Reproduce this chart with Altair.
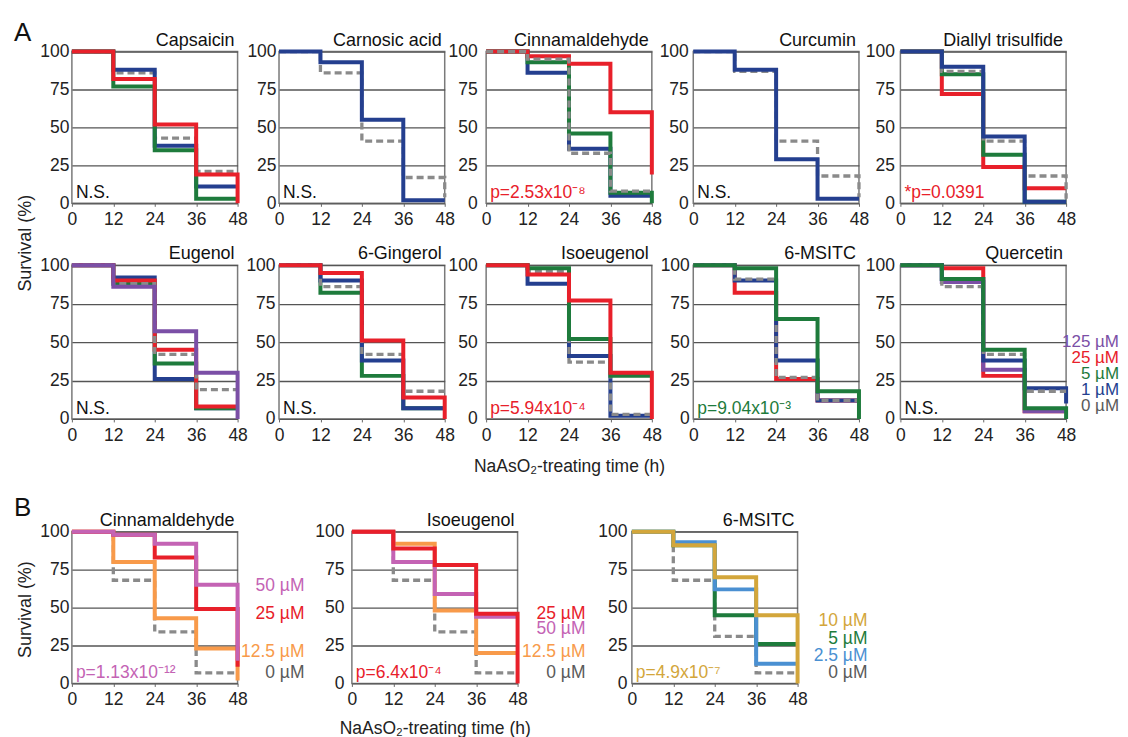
import altair as alt
import pandas as pd

FONT = "Liberation Sans"

TIMES = [0, 12, 24, 36, 48]
Y_TICKS = [0, 25, 50, 75, 100]

# ---- Section A (survival %, at 0/12/24/36/48 h); dict order = drawing order
CAPSAICIN = {"0 µM": [100, 86, 43, 21, 21], "1 µM": [100, 88, 38, 11, 11],
             "5 µM": [100, 77, 35, 3, 3], "25 µM": [100, 82, 52, 19, 0]}
CARNOSIC_ACID = {"0 µM": [100, 86, 41, 17, 4], "1 µM": [100, 93, 55, 2, 2]}
CINNAMALDEHYDE_A = {"1 µM": [100, 86, 36, 5, 5], "5 µM": [100, 93, 46, 7, 0],
                    "25 µM": [100, 97, 92, 60, 19], "0 µM": [100, 95, 33, 8, 8]}
CURCUMIN = {"0 µM": [100, 87, 41, 18, 4], "1 µM": [100, 88, 29, 3, 3]}
DIALLYL_TRISULFIDE = {"25 µM": [100, 72, 24, 10, 10], "5 µM": [100, 85, 32, 1, 1],
                      "0 µM": [100, 87, 41, 18, 3], "1 µM": [100, 90, 44, 1, 1]}
EUGENOL = {"1 µM": [100, 92, 26, 7, 7], "5 µM": [100, 88, 36, 7, 7],
           "25 µM": [100, 90, 45, 8, 8], "0 µM": [100, 88, 42, 19, 19],
           "125 µM": [100, 86, 57, 30, 0]}
GINGEROL = {"5 µM": [100, 82, 28, 7, 7], "1 µM": [100, 90, 38, 7, 7],
            "0 µM": [100, 86, 42, 18, 18], "25 µM": [100, 95, 51, 14, 0]}
ISOEUGENOL_A = {"1 µM": [100, 88, 41, 2, 2], "0 µM": [100, 96, 37, 3, 3],
                "5 µM": [100, 98, 52, 28, 28], "25 µM": [100, 94, 77, 30, 0]}
MSITC_A = {"25 µM": [100, 82, 26, 12, 12], "1 µM": [100, 90, 38, 12, 12],
           "0 µM": [100, 91, 27, 12, 12], "5 µM": [100, 98, 65, 18, 0]}
QUERCETIN = {"25 µM": [100, 98, 28, 5, 5], "125 µM": [100, 89, 32, 5, 5],
             "1 µM": [100, 91, 38, 20, 10], "0 µM": [100, 86, 42, 18, 18],
             "5 µM": [100, 91, 45, 7, 0]}

# ---- Section B
CINNAMALDEHYDE_B = {"0 µM": [100, 68, 34, 7, 7], "12.5 µM": [100, 80, 43, 23, 2],
                    "25 µM": [100, 98, 83, 49, 11], "50 µM": [100, 98, 92, 65, 15]}
ISOEUGENOL_B = {"0 µM": [100, 68, 34, 7, 7], "12.5 µM": [100, 92, 48, 20, 20],
                "50 µM": [100, 80, 59, 44, 44], "25 µM": [100, 89, 78, 46, 0]}
MSITC_B = {"0 µM": [100, 68, 31, 7, 7], "5 µM": [100, 91, 45, 26, 26],
           "2.5 µM": [100, 93, 62, 13, 13], "10 µM": [100, 91, 70, 45, 0]}

LEGEND_A = ["125 µM", "25 µM", "5 µM", "1 µM", "0 µM"]
LEGEND_B_CINN = ["50 µM", "25 µM", "12.5 µM", "0 µM"]
LEGEND_B_ISO = ["25 µM", "50 µM", "12.5 µM", "0 µM"]
LEGEND_B_MSITC = ["10 µM", "5 µM", "2.5 µM", "0 µM"]

COLORS = {"0 µM": "#8a8a8a", "1 µM": "#243f8f", "5 µM": "#1e7b3c",
          "25 µM": "#e8202a", "125 µM": "#7b4fa6", "12.5 µM": "#f89a4a",
          "50 µM": "#c463b4", "2.5 µM": "#4a90d2", "10 µM": "#d3a63b"}
TEXT_COLORS = dict(COLORS, **{"0 µM": "#5a5a5a"})

X_TITLE = "NaAsO₂-treating time (h)"
Y_TITLE = "Survival (%)"


def text_layer(label, x, y, color="#111", size=17, align="left",
               baseline="alphabetic", angle=0):
    kw = dict(align=align, baseline=baseline, font=FONT, fontSize=size, color=color)
    if angle:
        kw["angle"] = angle
    return alt.Chart(pd.DataFrame({"label": [label]})).mark_text(**kw).encode(
        x=alt.value(x), y=alt.value(y), text="label:N")


def panel(title, series, w, h, note, note_color="#111", xtitle_pad=0, ypad=3, extras=()):
    if xtitle_pad:
        x_axis = alt.Axis(values=TIMES, titlePadding=xtitle_pad)
        x_enc = alt.X("t:Q", scale=alt.Scale(domain=[0, 48], nice=False),
                      axis=x_axis, title=X_TITLE)
    else:
        x_enc = alt.X("t:Q", scale=alt.Scale(domain=[0, 48], nice=False),
                      axis=alt.Axis(values=TIMES), title=None)
    y_enc = alt.Y("s:Q", scale=alt.Scale(domain=[0, 100], nice=False),
                  axis=alt.Axis(values=Y_TICKS, labelPadding=ypad), title=None)
    layers = []
    for dose, vals in series.items():
        df = pd.DataFrame({"t": TIMES, "s": vals})
        if dose == "0 µM":
            m = alt.Chart(df).mark_line(interpolate="step-after", color=COLORS[dose],
                                        strokeWidth=3.3, strokeDash=[7, 4])
        else:
            m = alt.Chart(df).mark_line(interpolate="step-after", color=COLORS[dose],
                                        strokeWidth=4)
        layers.append(m.encode(x=x_enc, y=y_enc))
    layers.append(text_layer(note, 4, h - 5, color=note_color, size=17.5))
    layers.append(text_layer(title, w - 3, -6, align="right", size=18))
    layers.extend(extras)
    return alt.layer(*layers).properties(width=w, height=h)


W = 166
H1, H2, HB = 152, 154, 152

legendA = [text_layer(lab, W + 53, yy, color=TEXT_COLORS[lab], align="right", baseline="middle")
           for lab, yy in zip(LEGEND_A, [77, 93, 109, 125, 141])]
legendBC = [text_layer(lab, W + 67, yy, color=TEXT_COLORS[lab], size=17.5, align="right", baseline="middle")
            for lab, yy in zip(LEGEND_B_CINN, [54, 82, 121, 142])]
legendBI = [text_layer(lab, W + 68, yy, color=TEXT_COLORS[lab], size=17.5, align="right", baseline="middle")
            for lab, yy in zip(LEGEND_B_ISO, [82, 97, 121, 142])]
legendBM = [text_layer(lab, W + 70, yy, color=TEXT_COLORS[lab], size=17.5, align="right", baseline="middle")
            for lab, yy in zip(LEGEND_B_MSITC, [89, 107, 125, 142])]

row1 = alt.hconcat(
    panel("Capsaicin", CAPSAICIN, W, H1, "N.S.", ypad=3,
          extras=[text_layer("A", -58, -11, size=26)]),
    panel("Carnosic acid", CARNOSIC_ACID, W, H1, "N.S.", ypad=3),
    panel("Cinnamaldehyde", CINNAMALDEHYDE_A, W, H1, "p=2.53x10⁻⁸", COLORS["25 µM"], ypad=9),
    panel("Curcumin", CURCUMIN, W, H1, "N.S.", ypad=5),
    panel("Diallyl trisulfide", DIALLYL_TRISULFIDE, W, H1, "*p=0.0391", COLORS["25 µM"], ypad=6),
    spacing=41.5, bounds="flush")

row2 = alt.hconcat(
    panel("Eugenol", EUGENOL, W, H2, "N.S.", ypad=3,
          extras=[text_layer(Y_TITLE, -46, -22, color="#222", size=18, align="center",
                             baseline="middle", angle=270)]),
    panel("6-Gingerol", GINGEROL, W, H2, "N.S.", ypad=4),
    panel("Isoeugenol", ISOEUGENOL_A, W, H2, "p=5.94x10⁻⁴", COLORS["25 µM"],
          xtitle_pad=14, ypad=9),
    panel("6-MSITC", MSITC_A, W, H2, "p=9.04x10⁻³", COLORS["5 µM"], ypad=4),
    panel("Quercetin", QUERCETIN, W, H2, "N.S.", ypad=6, extras=legendA),
    spacing=41.5, bounds="flush")

rowB = alt.hconcat(
    panel("Cinnamaldehyde", CINNAMALDEHYDE_B, W, HB, "p=1.13x10⁻¹²", COLORS["50 µM"], ypad=3,
          extras=[text_layer("B", -58, -16, size=26),
                  text_layer(Y_TITLE, -46, HB / 2 + 2, color="#222", size=18, align="center",
                             baseline="middle", angle=270)] + legendBC),
    panel("Isoeugenol", ISOEUGENOL_B, W, HB, "p=6.4x10⁻⁴", COLORS["25 µM"],
          xtitle_pad=11, ypad=8, extras=legendBI),
    panel("6-MSITC", MSITC_B, W, HB, "p=4.9x10⁻⁷", COLORS["10 µM"], ypad=5, extras=legendBM),
    spacing=114.5, bounds="flush")

inner = alt.vconcat(row1, row2, spacing=-36)
chart = alt.vconcat(inner, rowB, spacing=17).properties(
    padding={"left": 5, "top": 10, "right": 0, "bottom": 0},
    background="white",
).configure_view(
    stroke="#7a7a7a", strokeWidth=1.5
).configure_axis(
    labelFont=FONT, labelFontSize=17.5, labelColor="#222", labelFlush=False,
    titleFont=FONT, titleFontSize=17.5, titleFontWeight="normal", titleColor="#222",
    domain=False, tickColor="#666"
).configure_axisX(
    tickSize=3, labelPadding=4.5, grid=False
).configure_axisY(
    ticks=False, tickSize=0, grid=True, gridColor="#555", gridWidth=1.3
)

chart.save("out.html", embed_options={"renderer": "svg", "actions": False})
